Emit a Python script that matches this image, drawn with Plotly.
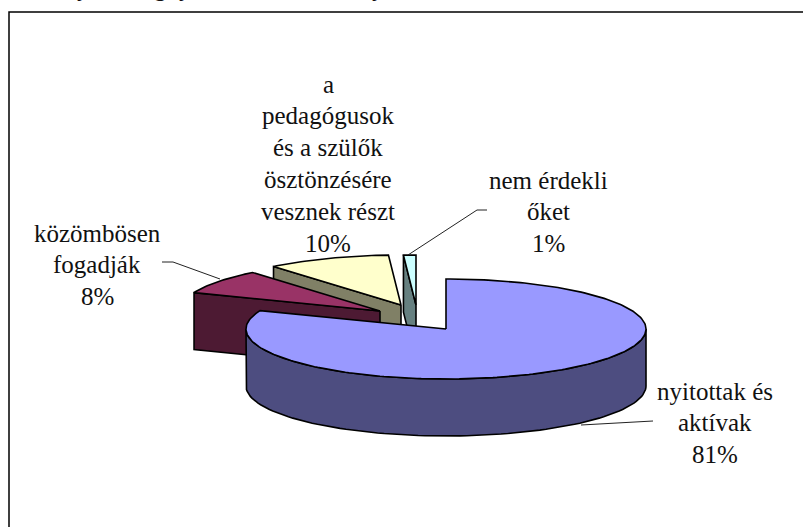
import math
import plotly.graph_objects as go

# Data
categories = ["nyitottak és aktívak", "közömbösen fogadják",
              "a pedagógusok és a szülők ösztönzésére vesznek részt", "nem érdekli őket"]
values = [81, 8, 10, 1]
percent_labels = ["81%", "8%", "10%", "1%"]

# Colours
top_colors = ["#9999FF", "#993366", "#FFFFCC", "#CCFFFF"]
side_colors = ["#4D4D80", "#4D1A33", "#808066", "#668080"]

# Projection of the 3D pie, in pixels of the 803x527 canvas
RX, RY, DEPTH = 200, 50, 57
apexes = [(446, 329), (380, 311), (401, 305), (416, 305)]
W, H = 803, 527


def pt(apex, deg, drop=0):
    a = math.radians(deg)
    return apex[0] + RX * math.sin(a), apex[1] - RY * math.cos(a) + drop


def arc(apex, d0, d1, drop=0, steps=90):
    return [pt(apex, d0 + (d1 - d0) * i / steps, drop) for i in range(steps + 1)]


def poly(points, color):
    return go.Scatter(x=[p[0] for p in points] + [points[0][0]],
                      y=[p[1] for p in points] + [points[0][1]],
                      mode="lines", fill="toself", fillcolor=color,
                      line=dict(color="black", width=1.6), hoverinfo="skip", showlegend=False)


# slice angles, clockwise from 12 o'clock
total = sum(values)
edges = [0]
for v in values:
    edges.append(edges[-1] + 360 * v / total)

fig = go.Figure()


def wall(i, deg):
    a = apexes[i]
    p = pt(a, deg)
    return poly([a, p, (p[0], p[1] + DEPTH), (a[0], a[1] + DEPTH)], side_colors[i])


# back to front: 1 %, 10 %, 8 %, 81 %
for i in (3, 2, 1):
    fig.add_trace(wall(i, edges[i]))
    fig.add_trace(poly([apexes[i]] + arc(apexes[i], edges[i], edges[i + 1], steps=30), top_colors[i]))

main = apexes[0]
rim = arc(main, 90, 270) + arc(main, 270, 90, DEPTH)
fig.add_trace(poly(rim, side_colors[0]))
fig.add_trace(poly([main] + arc(main, edges[0], edges[1], steps=240), top_colors[0]))

# Leader lines
leaders = [
    ([162, 173, 220], [262, 262, 279]),
    ([487, 477, 408], [210, 210, 255]),
    ([653, 581], [421, 425]),
]
for lx, ly in leaders:
    fig.add_trace(go.Scatter(x=lx, y=ly, mode="lines", line=dict(color="#222222", width=1),
                             hoverinfo="skip", showlegend=False))

# Data labels, line by line
label_lines = [
    (715, 391, ["nyitottak és", "aktívak", percent_labels[0]]),
    (97, 233, ["közömbösen", "fogadják", percent_labels[1]]),
    (328, 84, ["a", "pedagógusok", "és a szülők", "ösztönzésére", "vesznek részt", percent_labels[2]]),
    (548, 180, ["nem érdekli", "őket", percent_labels[3]]),
]
annotations = []
for x, y0, lines in label_lines:
    for k, line in enumerate(lines):
        annotations.append(dict(x=x, y=y0 + k * 31.8, text=line, xref="x", yref="y", showarrow=False,
                                xanchor="center", yanchor="middle",
                                font=dict(family="Liberation Serif", size=25, color="#111111")))

# Descenders of the text line cut off by the top of the picture
for x, ch in [(83, "y"), (160, "g"), (185, "y"), (378, "y")]:
    annotations.append(dict(x=x / W, y=1 + 13 / H, text=ch, xref="paper", yref="paper", showarrow=False,
                            xanchor="center", yanchor="middle",
                            font=dict(family="Liberation Serif", size=25, color="#111111")))

# Chart frame (runs off the right and bottom of the picture)
shapes = [dict(type="rect", x0=9, y0=12, x1=W + 20, y1=H + 20, xref="x", yref="y",
               line=dict(color="black", width=1.5), fillcolor="rgba(0,0,0,0)")]

fig.update_layout(
    width=W, height=H, margin=dict(l=0, r=0, t=0, b=0),
    paper_bgcolor="white", plot_bgcolor="white",
    xaxis=dict(range=[0, W], visible=False, fixedrange=True),
    yaxis=dict(range=[H, 0], visible=False, fixedrange=True),
    annotations=annotations, shapes=shapes, showlegend=False,
)
fig.write_html("out.html", post_script="document.body.style.margin='0';", config={"displayModeBar": False})
